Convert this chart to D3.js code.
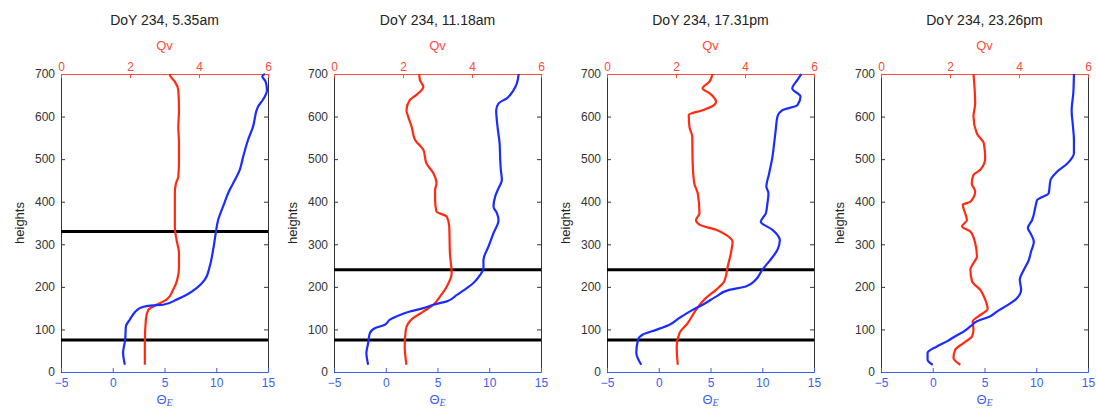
<!DOCTYPE html>
<html>
<head>
<meta charset="utf-8">
<script src="https://cdn.jsdelivr.net/npm/d3@7"></script>
<style>
  body { margin: 0; background: #fff; }
  text { font-family: "Liberation Sans", Arial, sans-serif; }
</style>
</head>
<body>
<script>
// panel titles
var titles = ["DoY 234, 5.35am", "DoY 234, 11.18am", "DoY 234, 17.31pm", "DoY 234, 23.26pm"];

// theta_E profiles [theta, height]
var theta1 = [[1.17,17],[1.0,45],[1.2,76],[1.27,107],[1.65,123],[2.6,150],[3.6,156],[4.87,158],[6.16,170],[7.1,181],[8.1,197],[8.9,217],[9.37,248],[9.7,287],[9.95,326],[10.18,357],[10.66,389],[11.3,428],[11.8,451],[12.27,475],[12.6,506],[13.07,545],[13.55,576],[14.03,623],[14.5,639],[14.9,662],[14.77,682],[14.45,695],[14.7,700]];
var theta2 = [[-1.7,17],[-1.87,45],[-1.7,68],[-1.54,91],[-1.06,103],[-0.09,111],[0.4,123],[1.37,134],[2.33,142],[3.63,150],[4.6,158],[5.9,166],[6.86,181],[7.83,197],[8.47,209],[9.12,228],[9.44,244],[9.44,263],[9.93,295],[10.41,326],[10.9,357],[10.74,373],[10.41,389],[10.57,412],[10.9,432],[11.22,451],[11.12,475],[11.06,498],[11.0,537],[10.8,576],[10.67,615],[10.9,631],[11.7,643],[12.35,662],[12.67,678],[12.84,700]];
var theta3 = [[-1.69,17],[-2.17,45],[-2.0,76],[-1.53,88],[-0.25,99],[1.04,111],[2.0,127],[3.28,146],[4.25,158],[5.53,177],[6.8,193],[8.42,201],[9.38,217],[10.0,240],[10.67,260],[11.47,287],[11.7,310],[10.99,334],[9.86,353],[10.35,373],[10.5,396],[10.6,420],[10.4,435],[10.67,467],[10.99,506],[11.15,537],[11.3,568],[11.47,600],[11.95,615],[13.4,627],[13.7,647],[12.9,666],[13.4,686],[13.78,700]];
var theta4 = [[0.0,17],[-0.5,29],[-0.5,45],[0.4,60],[1.37,72],[2.17,84],[2.98,95],[3.63,107],[4.27,119],[5.57,131],[6.2,142],[7.02,154],[7.99,170],[8.54,193],[8.41,217],[8.8,240],[9.28,263],[9.5,283],[9.77,306],[9.44,326],[9.19,338],[9.6,357],[9.93,389],[10.09,404],[11.2,420],[11.38,451],[12.03,471],[13.0,490],[13.64,514],[13.64,545],[13.55,576],[13.42,615],[13.58,655],[13.64,700]];

// Qv profiles [qv, height]
var qv1 = [[2.43,17],[2.43,68],[2.46,123],[2.53,146],[2.77,158],[3.06,170],[3.25,193],[3.37,217],[3.42,248],[3.42,279],[3.35,310],[3.3,342],[3.3,381],[3.3,420],[3.33,443],[3.4,459],[3.42,498],[3.42,537],[3.4,576],[3.42,615],[3.4,662],[3.3,682],[3.17,695],[3.15,700]];
var qv2 = [[2.1,17],[2.05,60],[2.08,99],[2.3,127],[2.59,142],[2.88,158],[3.07,177],[3.27,201],[3.41,232],[3.36,279],[3.34,342],[3.27,365],[2.97,377],[2.93,404],[2.93,428],[2.97,443],[2.88,467],[2.68,490],[2.59,522],[2.35,545],[2.25,576],[2.15,600],[2.1,615],[2.2,639],[2.39,651],[2.59,670],[2.49,686],[2.47,700]];
var qv3 = [[2.05,17],[2.02,60],[2.1,91],[2.34,115],[2.58,146],[2.87,174],[3.16,193],[3.4,213],[3.5,248],[3.59,279],[3.64,306],[3.45,322],[3.16,334],[2.68,346],[2.58,357],[2.68,373],[2.63,420],[2.53,443],[2.48,498],[2.47,553],[2.39,576],[2.37,604],[2.77,615],[3.02,623],[3.16,635],[2.97,655],[2.77,666],[2.97,682],[3.06,700]];
var qv4 = [[2.3,17],[2.1,33],[2.15,52],[2.39,68],[2.64,84],[2.68,99],[2.66,119],[2.88,134],[3.09,148],[3.02,170],[2.88,193],[2.64,213],[2.59,240],[2.68,256],[2.78,271],[2.73,303],[2.59,330],[2.35,342],[2.49,357],[2.37,393],[2.59,400],[2.73,424],[2.63,443],[2.68,463],[2.88,475],[3.02,502],[2.98,537],[2.78,560],[2.68,600],[2.73,631],[2.68,700]];

// boundary-layer marker heights per panel
var levels = [[75, 330], [75, 240], [75, 240], []];

var thetaData = [theta1, theta2, theta3, theta4];
var qvData = [qv1, qv2, qv3, qv4];

var thetaTicks = [-5, 0, 5, 10, 15];
var qvTicks = [0, 2, 4, 6];
var heightTicks = [0, 100, 200, 300, 400, 500, 600, 700];

var width = 1096, height = 409;
var lefts = [61, 334, 607, 881];
var pw = 207, ph = 298, plotTop = 74;

var RED = "#ff2a10", BLUE = "#1a2cff";
var RED_TXT = "#ff4b3a", BLUE_TXT = "#3c5ef0", GRAY = "#333";

var svg = d3.select("body").append("svg")
  .attr("width", width)
  .attr("height", height);

titles.forEach(function(title, i) {
  var g = svg.append("g").attr("transform", "translate(" + lefts[i] + "," + plotTop + ")");

  var x = d3.scaleLinear().domain([-5, 15]).range([0, pw]);
  var xq = d3.scaleLinear().domain([0, 6]).range([0, pw]);
  var y = d3.scaleLinear().domain([0, 700]).range([ph, 0]);

  // left axis
  var yAxis = g.append("g").call(d3.axisLeft(y).tickValues(heightTicks).tickSizeInner(-4).tickSizeOuter(0).tickPadding(6));
  yAxis.select(".domain").attr("stroke", GRAY);
  yAxis.selectAll("line").attr("stroke", GRAY);
  yAxis.selectAll("text").attr("fill", GRAY).attr("font-size", 12);

  // right axis (ticks only)
  var yAxisR = g.append("g").attr("transform", "translate(" + pw + ",0)")
    .call(d3.axisRight(y).tickValues(heightTicks).tickSizeInner(-4).tickSizeOuter(0).tickFormat(""));
  yAxisR.select(".domain").attr("stroke", GRAY);
  yAxisR.selectAll("line").attr("stroke", GRAY);

  // bottom theta axis
  var xAxis = g.append("g").attr("transform", "translate(0," + ph + ")")
    .call(d3.axisBottom(x).tickValues(thetaTicks).tickSizeInner(-4).tickSizeOuter(0).tickPadding(6));
  xAxis.select(".domain").attr("stroke", BLUE_TXT);
  xAxis.selectAll("line").attr("stroke", BLUE_TXT);
  xAxis.selectAll("text").attr("fill", BLUE_TXT).attr("font-size", 12);

  // top Qv axis
  var qAxis = g.append("g")
    .call(d3.axisTop(xq).tickValues(qvTicks).tickFormat(d3.format("d")).tickSizeInner(-4).tickSizeOuter(0).tickPadding(3));
  qAxis.select(".domain").attr("stroke", RED_TXT);
  qAxis.selectAll("line").attr("stroke", RED_TXT);
  qAxis.selectAll("text").attr("fill", RED_TXT).attr("font-size", 12);

  // horizontal marker lines
  g.selectAll(".lvl").data(levels[i]).enter().append("line")
    .attr("x1", 0).attr("x2", pw)
    .attr("y1", function(d) { return y(d); })
    .attr("y2", function(d) { return y(d); })
    .attr("stroke", "#000").attr("stroke-width", 3);

  var lineT = d3.line().x(function(d) { return x(d[0]); }).y(function(d) { return y(d[1]); }).curve(d3.curveMonotoneY);
  var lineQ = d3.line().x(function(d) { return xq(d[0]); }).y(function(d) { return y(d[1]); }).curve(d3.curveMonotoneY);

  g.append("path").datum(qvData[i]).attr("d", lineQ)
    .attr("fill", "none").attr("stroke", RED).attr("stroke-width", 2.2);
  g.append("path").datum(thetaData[i]).attr("d", lineT)
    .attr("fill", "none").attr("stroke", BLUE).attr("stroke-width", 2.2);

  // labels
  g.append("text").attr("x", pw / 2).attr("y", -49)
    .attr("text-anchor", "middle").attr("font-size", 14).attr("fill", "#222").text(title);
  g.append("text").attr("x", pw / 2).attr("y", -24)
    .attr("text-anchor", "middle").attr("font-size", 13).attr("fill", RED_TXT).text("Qv");
  g.append("text").attr("transform", "translate(-37," + (ph / 2) + ") rotate(-90)")
    .attr("text-anchor", "middle").attr("font-size", 13).attr("fill", "#222").text("heights");

  var tl = g.append("text").attr("x", pw / 2).attr("y", ph + 32)
    .attr("text-anchor", "middle").attr("fill", BLUE_TXT);
  tl.append("tspan").attr("font-size", 13).text("Θ");
  tl.append("tspan").attr("font-size", 10).attr("font-style", "italic")
    .attr("font-family", "'Liberation Serif', serif").attr("dy", 2).text("E");
});
</script>
</body>
</html>
